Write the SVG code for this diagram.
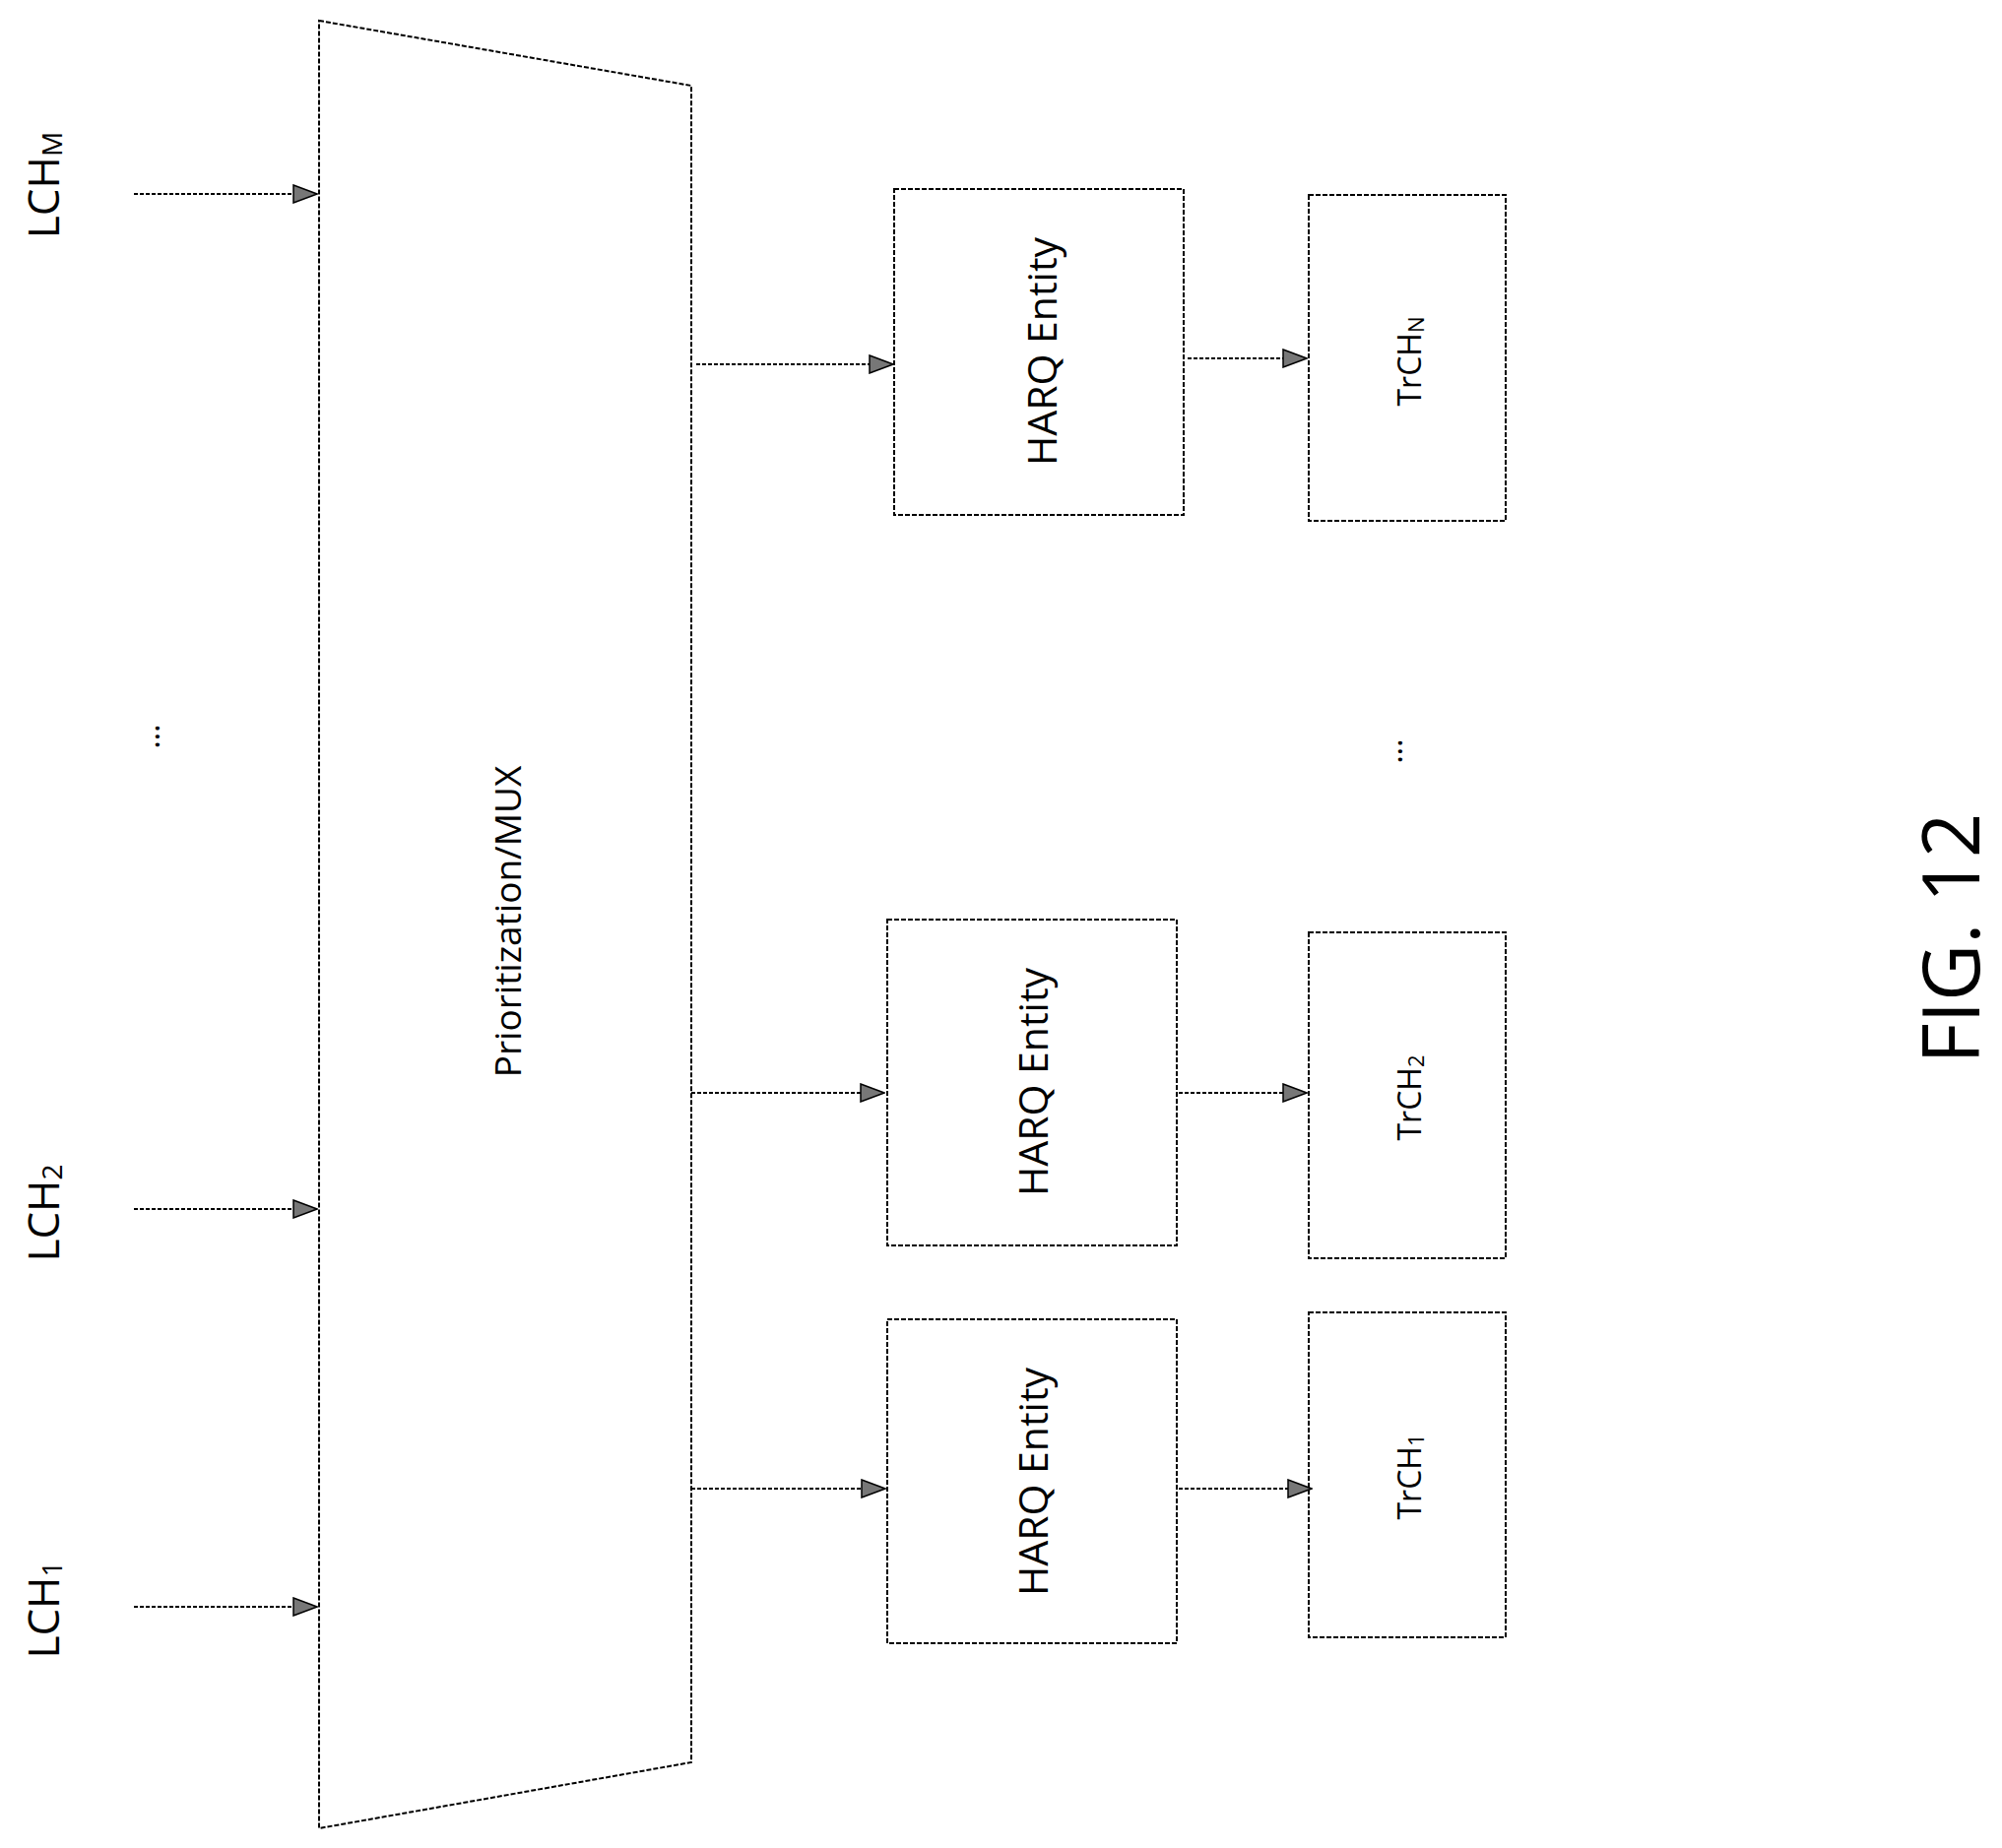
<svg xmlns="http://www.w3.org/2000/svg" width="2033" height="1877" viewBox="0 0 2033 1877">
<style>
.b{fill:none;stroke:#000;stroke-width:2;stroke-dasharray:5 2}
.c{stroke:#000;stroke-width:2;stroke-dasharray:4 2;fill:none}
.t{font-family:"Open Sans","Liberation Sans",sans-serif;fill:#000;text-anchor:middle;dominant-baseline:central}
</style>
<defs>
<marker id="a" markerWidth="26" markerHeight="20" refX="25" refY="10" orient="auto" markerUnits="userSpaceOnUse">
<path d="M1,1 L25,10 L1,19 Z" fill="#777" stroke="#000" stroke-width="1.5"/>
</marker>
</defs>
<rect width="2033" height="1877" fill="#fff"/>
<g id="lchM"><text class="t" font-size="44" transform="translate(43,188) rotate(-90)">LCH<tspan font-size="28" dy="9">M</tspan></text></g>
<g id="lch2"><text class="t" font-size="44" transform="translate(43,1232) rotate(-90)">LCH<tspan font-size="28" dy="9">2</tspan></text></g>
<g id="lch1"><text class="t" font-size="44" transform="translate(43,1635) rotate(-90)">LCH<tspan font-size="28" dy="9">1</tspan></text></g>
<g id="dotsL"><text class="t" font-size="32" transform="translate(149,748) rotate(-90)">...</text></g>
<g id="mux">
<path class="b" d="M324,21 L702,87 L702,1790 L324,1857 Z"/>
<text class="t" font-size="37" transform="translate(514,936) rotate(-90)">Prioritization/MUX</text>
</g>
<g id="harqN"><rect class="b" x="908" y="192" width="294" height="331"/><text class="t" font-size="41" transform="translate(1057,357) rotate(-90)">HARQ Entity</text></g>
<g id="harq2"><rect class="b" x="901" y="934" width="294" height="331"/><text class="t" font-size="41" transform="translate(1048,1099) rotate(-90)">HARQ Entity</text></g>
<g id="harq1"><rect class="b" x="901" y="1340" width="294" height="329"/><text class="t" font-size="41" transform="translate(1048,1505) rotate(-90)">HARQ Entity</text></g>
<g id="trchN"><rect class="b" x="1329" y="198" width="200" height="331"/><text class="t" font-size="32" transform="translate(1430,367) rotate(-90)">TrCH<tspan font-size="22" dy="7">N</tspan></text></g>
<g id="trch2"><rect class="b" x="1329" y="947" width="200" height="331"/><text class="t" font-size="32" transform="translate(1430,1115) rotate(-90)">TrCH<tspan font-size="22" dy="7">2</tspan></text></g>
<g id="trch1"><rect class="b" x="1329" y="1333" width="200" height="330"/><text class="t" font-size="32" transform="translate(1430,1500) rotate(-90)">TrCH<tspan font-size="22" dy="7">1</tspan></text></g>
<g id="dotsR"><text class="t" font-size="32" transform="translate(1411,763) rotate(-90)">...</text></g>
<g id="fig"><text class="t" font-size="80" transform="translate(1978,953) rotate(-90)">FIG. 12</text></g>
<g id="connectors">
<line class="c" x1="136" y1="197" x2="322" y2="197" marker-end="url(#a)"/>
<line class="c" x1="136" y1="1228" x2="322" y2="1228" marker-end="url(#a)"/>
<line class="c" x1="136" y1="1632" x2="322" y2="1632" marker-end="url(#a)"/>
<line class="c" x1="707" y1="370" x2="907" y2="370" marker-end="url(#a)"/>
<line class="c" x1="702" y1="1110" x2="898" y2="1110" marker-end="url(#a)"/>
<line class="c" x1="702" y1="1512" x2="899" y2="1512" marker-end="url(#a)"/>
<line class="c" x1="1206" y1="364" x2="1327" y2="364" marker-end="url(#a)"/>
<line class="c" x1="1197" y1="1110" x2="1327" y2="1110" marker-end="url(#a)"/>
<line class="c" x1="1197" y1="1512" x2="1332" y2="1512" marker-end="url(#a)"/>
</g>
</svg>
